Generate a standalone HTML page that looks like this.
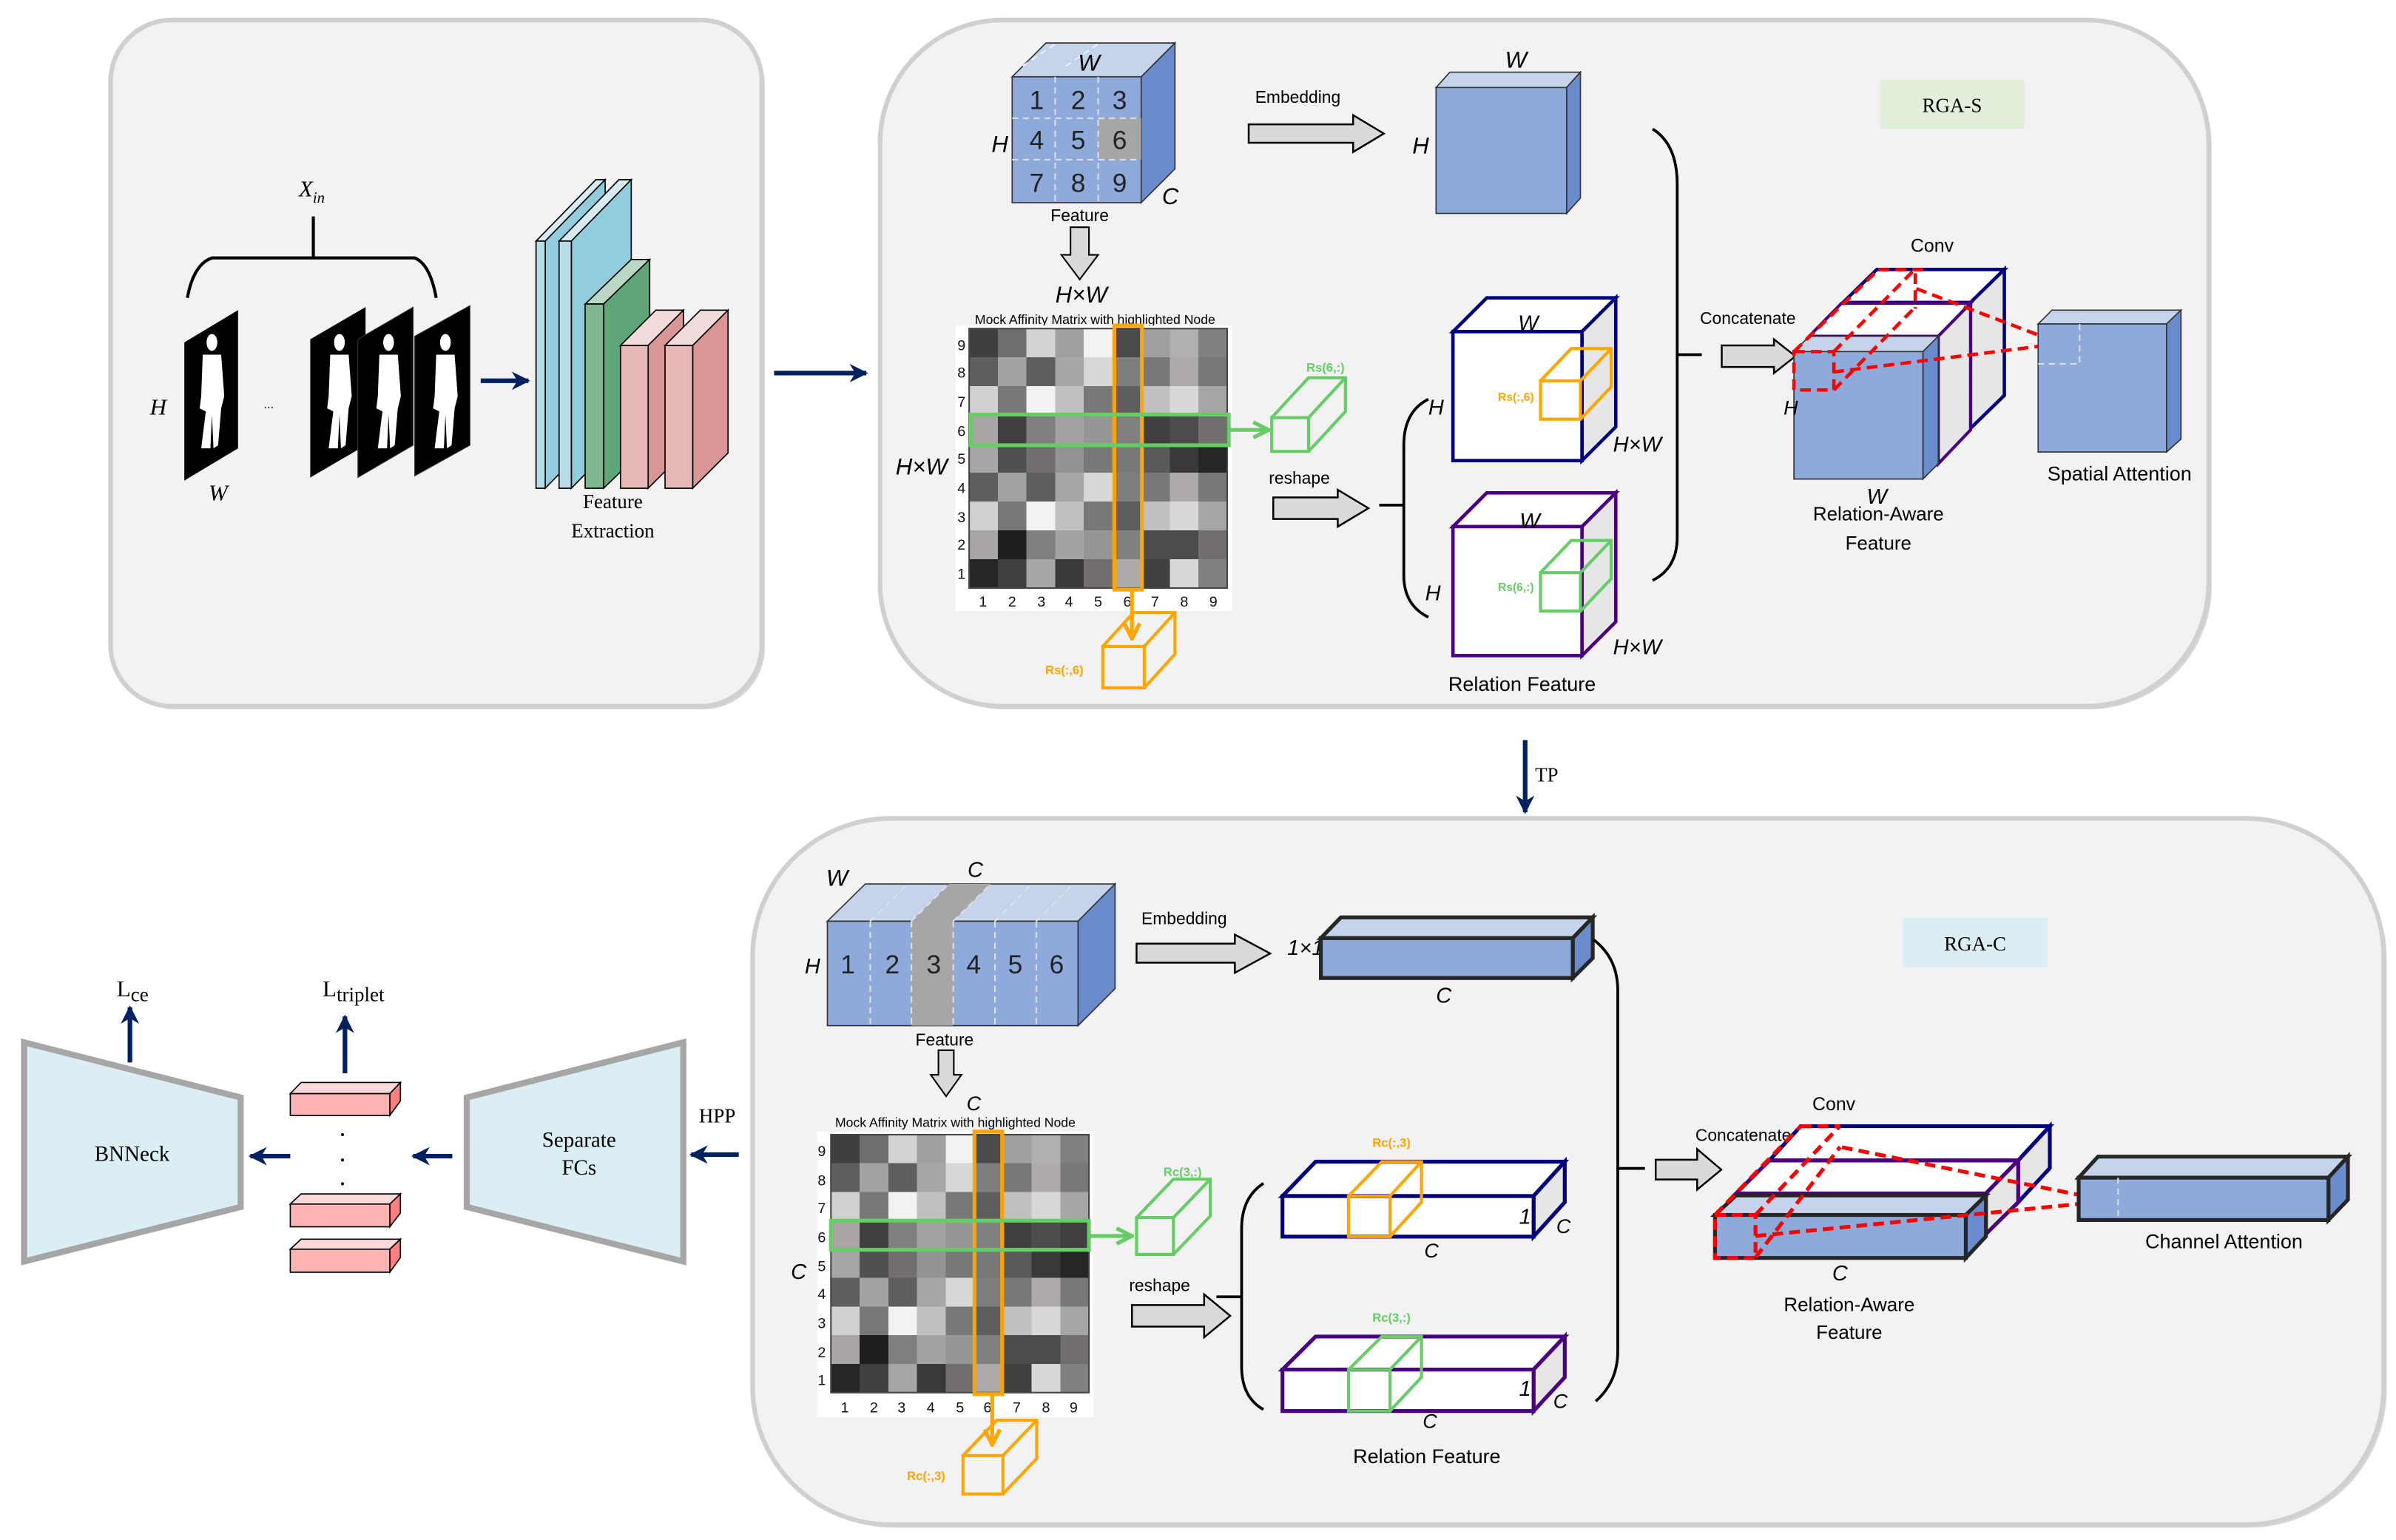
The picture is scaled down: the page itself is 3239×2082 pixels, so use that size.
<!DOCTYPE html>
<html><head><meta charset="utf-8"><style>
html,body{margin:0;padding:0;background:#fff;}
svg{display:block;}
text{font-family:"Liberation Sans",sans-serif;}
.sf{font-family:"Liberation Serif",serif;}
.it{font-style:italic;}
</style></head><body>
<svg width="3239" height="2082" viewBox="0 0 1560 1003" preserveAspectRatio="none" xmlns="http://www.w3.org/2000/svg">
<defs>
<marker id="ah" viewBox="0 0 10 10" refX="9" refY="5" markerWidth="4" markerHeight="4" orient="auto-start-reverse" markerUnits="strokeWidth">
<path d="M0,0 L10,5 L0,10 L3,5 Z" fill="#002060"/></marker>
<marker id="ag" viewBox="0 0 10 10" refX="9" refY="5" markerWidth="5" markerHeight="5" orient="auto" markerUnits="strokeWidth">
<path d="M1,1 L9,5 L1,9" fill="none" stroke="#66cc66" stroke-width="2"/></marker>
<marker id="ao" viewBox="0 0 10 10" refX="9" refY="5" markerWidth="5" markerHeight="5" orient="auto" markerUnits="strokeWidth">
<path d="M1,1 L9,5 L1,9" fill="none" stroke="#ffa500" stroke-width="2"/></marker>
<g id="sil" fill="#fff">
<ellipse cx="0" cy="5" rx="3.5" ry="5.5"/>
<path d="M-6,13 L6,13 L8,40 L6,48 L4,72 L1,74 L0,52 L-1,74 L-7,74 L-4,50 L-8,48 L-7,40 Z"/>
</g>
</defs>

<!-- panels -->
<rect x="74" y="15" width="424" height="447" rx="40" fill="#d8d8d8"/>
<rect x="72" y="13" width="424" height="447" rx="40" fill="#f2f2f2" stroke="#d0d0d0" stroke-width="3"/>
<rect x="575" y="15" width="865" height="447" rx="80" fill="#d8d8d8"/>
<rect x="573" y="13" width="865" height="447" rx="80" fill="#f2f2f2" stroke="#d0d0d0" stroke-width="3"/>
<rect x="492" y="535" width="1062" height="460" rx="90" fill="#d8d8d8"/>
<rect x="490" y="533" width="1062" height="460" rx="90" fill="#f2f2f2" stroke="#d0d0d0" stroke-width="3"/>

<!-- ===== Top-left ===== -->
<text x="203" y="128" class="sf it" font-size="15" text-anchor="middle">X<tspan font-size="10" dy="4">in</tspan></text>
<path d="M204,141 L204,168 M122,194 Q126,172 138,168 L270,168 Q280,172 284,194" fill="none" stroke="#000" stroke-width="2"/>
<polygon points="120,223 155,202 155,292 120,313" fill="#000"/>
<use href="#sil" x="138" y="218"/>
<polygon points="202,221 238,200 238,290 202,311" fill="#000"/>
<polygon points="233,221 269,200 269,290 233,311" fill="#000" stroke="#333" stroke-width="0.5"/>
<polygon points="270,219 306,199 306,290 270,310" fill="#000" stroke="#333" stroke-width="0.5"/>
<use href="#sil" x="221" y="218"/>
<use href="#sil" x="253" y="218"/>
<use href="#sil" x="290" y="218"/>
<text x="175" y="266" font-size="8" text-anchor="middle">...</text>
<text x="103" y="270" class="sf it" font-size="15" text-anchor="middle">H</text>
<text x="142" y="326" class="sf it" font-size="15" text-anchor="middle">W</text>
<line x1="313" y1="248" x2="344" y2="248" stroke="#002060" stroke-width="3" marker-end="url(#ah)"/>
<!-- feature extraction slabs -->
<g stroke="#000" stroke-width="0.8">
<polygon points="349,157 355,157 394,117 388,117" fill="#d6ecf3"/>
<polygon points="355,157 394,117 394,278 355,318" fill="#92cddd"/>
<rect x="349" y="157" width="6" height="161" fill="#b7dde8"/>
<polygon points="364,157 372,157 411,117 403,117" fill="#d6ecf3"/>
<polygon points="372,157 411,117 411,278 372,318" fill="#92cddd"/>
<rect x="364" y="157" width="8" height="161" fill="#b7dde8"/>
<polygon points="381,198 393,198 423,169 411,169" fill="#b9d7c4"/>
<polygon points="393,198 423,169 423,289 393,318" fill="#5ea577"/>
<rect x="381" y="198" width="12" height="120" fill="#7fb791"/>
<polygon points="404,225 422,225 445,202 427,202" fill="#f2dcdb"/>
<polygon points="422,225 445,202 445,295 422,318" fill="#d99694"/>
<rect x="404" y="225" width="18" height="93" fill="#e6b9b8"/>
<polygon points="433,225 451,225 474,202 456,202" fill="#f2dcdb"/>
<polygon points="451,225 474,202 474,295 451,318" fill="#d99694"/>
<rect x="433" y="225" width="18" height="93" fill="#e6b9b8"/>
</g>
<text x="399" y="331" class="sf" font-size="13" text-anchor="middle">Feature</text>
<text x="399" y="350" class="sf" font-size="13" text-anchor="middle">Extraction</text>

<line x1="504" y1="243" x2="564" y2="243" stroke="#002060" stroke-width="3" marker-end="url(#ah)"/>

<!-- ===== Top-right RGA-S ===== -->
<g stroke="#333" stroke-width="0.8">
<polygon points="659,50 743,50 765,28 681,28" fill="#c5d3eb"/>
<polygon points="743,50 765,28 765,110 743,132" fill="#6a8bcc"/>
<rect x="659" y="50" width="84" height="82" fill="#8eaadb"/>
<rect x="715" y="77" width="28" height="27" fill="#a6a6a6" stroke="none"/>
</g>
<g stroke="#dde" stroke-width="1" stroke-dasharray="4,3">
<line x1="687" y1="50" x2="687" y2="132"/><line x1="715" y1="50" x2="715" y2="132"/>
<line x1="659" y1="77" x2="743" y2="77"/><line x1="659" y1="104" x2="743" y2="104"/>
<line x1="666" y1="43" x2="688" y2="28" stroke="#eef"/><line x1="694" y1="43" x2="716" y2="28" stroke="#eef"/>
</g>
<g font-size="17" text-anchor="middle" fill="#222">
<text x="675" y="71">1</text><text x="702" y="71">2</text><text x="729" y="71">3</text>
<text x="675" y="97">4</text><text x="702" y="97">5</text><text x="729" y="97">6</text>
<text x="675" y="125">7</text><text x="702" y="125">8</text><text x="729" y="125">9</text>
</g>
<text x="709" y="46" class="it" font-size="15" text-anchor="middle">W</text>
<text x="651" y="99" class="it" font-size="15" text-anchor="middle">H</text>
<text x="762" y="133" class="it" font-size="15" text-anchor="middle">C</text>
<text x="703" y="144" font-size="11" text-anchor="middle">Feature</text>
<polygon points="697,148 709,148 709,166 715,166 703,182 691,166 697,166" fill="#d9d9d9" stroke="#000" stroke-width="1"/>
<text x="704" y="197" class="it" font-size="15" text-anchor="middle">H×W</text>
<text x="713" y="211" font-size="8.5" text-anchor="middle">Mock Affinity Matrix with highlighted Node</text>
<rect x="622" y="212" width="180" height="186" fill="#fff"/>
<svg x="631" y="214" width="168" height="169" viewBox="0 0 9 9" preserveAspectRatio="none" shape-rendering="crispEdges">
<g>
<rect x="0" y="0" width="1" height="1" fill="#3f3f3f"/><rect x="1" y="0" width="1" height="1" fill="#6e6e6e"/><rect x="2" y="0" width="1" height="1" fill="#d3d3d3"/><rect x="3" y="0" width="1" height="1" fill="#a0a0a0"/><rect x="4" y="0" width="1" height="1" fill="#f2f2f2"/><rect x="5" y="0" width="1" height="1" fill="#4a4a4a"/><rect x="6" y="0" width="1" height="1" fill="#a0a0a0"/><rect x="7" y="0" width="1" height="1" fill="#b0b0b0"/><rect x="8" y="0" width="1" height="1" fill="#808080"/>
<rect x="0" y="1" width="1" height="1" fill="#5e5e5e"/><rect x="1" y="1" width="1" height="1" fill="#a3a3a3"/><rect x="2" y="1" width="1" height="1" fill="#5e5e5e"/><rect x="3" y="1" width="1" height="1" fill="#a6a6a6"/><rect x="4" y="1" width="1" height="1" fill="#d8d8d8"/><rect x="5" y="1" width="1" height="1" fill="#7e7e7e"/><rect x="6" y="1" width="1" height="1" fill="#787878"/><rect x="7" y="1" width="1" height="1" fill="#aeaaaa"/><rect x="8" y="1" width="1" height="1" fill="#787878"/>
<rect x="0" y="2" width="1" height="1" fill="#d0d0d0"/><rect x="1" y="2" width="1" height="1" fill="#787878"/><rect x="2" y="2" width="1" height="1" fill="#f2f2f2"/><rect x="3" y="2" width="1" height="1" fill="#c0c0c0"/><rect x="4" y="2" width="1" height="1" fill="#787878"/><rect x="5" y="2" width="1" height="1" fill="#5e5e5e"/><rect x="6" y="2" width="1" height="1" fill="#c0c0c0"/><rect x="7" y="2" width="1" height="1" fill="#d8d8d8"/><rect x="8" y="2" width="1" height="1" fill="#a6a6a6"/>
<rect x="0" y="3" width="1" height="1" fill="#aaa6a6"/><rect x="1" y="3" width="1" height="1" fill="#404040"/><rect x="2" y="3" width="1" height="1" fill="#808080"/><rect x="3" y="3" width="1" height="1" fill="#a3a3a3"/><rect x="4" y="3" width="1" height="1" fill="#969696"/><rect x="5" y="3" width="1" height="1" fill="#808080"/><rect x="6" y="3" width="1" height="1" fill="#404040"/><rect x="7" y="3" width="1" height="1" fill="#4c4c4c"/><rect x="8" y="3" width="1" height="1" fill="#726e6e"/>
<rect x="0" y="4" width="1" height="1" fill="#a6a6a6"/><rect x="1" y="4" width="1" height="1" fill="#505050"/><rect x="2" y="4" width="1" height="1" fill="#726e6e"/><rect x="3" y="4" width="1" height="1" fill="#949494"/><rect x="4" y="4" width="1" height="1" fill="#787878"/><rect x="5" y="4" width="1" height="1" fill="#787878"/><rect x="6" y="4" width="1" height="1" fill="#5a5a5a"/><rect x="7" y="4" width="1" height="1" fill="#3a3838"/><rect x="8" y="4" width="1" height="1" fill="#262626"/>
<rect x="0" y="5" width="1" height="1" fill="#5e5e5e"/><rect x="1" y="5" width="1" height="1" fill="#a3a3a3"/><rect x="2" y="5" width="1" height="1" fill="#5e5e5e"/><rect x="3" y="5" width="1" height="1" fill="#a6a6a6"/><rect x="4" y="5" width="1" height="1" fill="#d8d8d8"/><rect x="5" y="5" width="1" height="1" fill="#7e7e7e"/><rect x="6" y="5" width="1" height="1" fill="#787878"/><rect x="7" y="5" width="1" height="1" fill="#aeaaaa"/><rect x="8" y="5" width="1" height="1" fill="#787878"/>
<rect x="0" y="6" width="1" height="1" fill="#d0d0d0"/><rect x="1" y="6" width="1" height="1" fill="#787878"/><rect x="2" y="6" width="1" height="1" fill="#f2f2f2"/><rect x="3" y="6" width="1" height="1" fill="#c0c0c0"/><rect x="4" y="6" width="1" height="1" fill="#787878"/><rect x="5" y="6" width="1" height="1" fill="#5e5e5e"/><rect x="6" y="6" width="1" height="1" fill="#c0c0c0"/><rect x="7" y="6" width="1" height="1" fill="#d8d8d8"/><rect x="8" y="6" width="1" height="1" fill="#a6a6a6"/>
<rect x="0" y="7" width="1" height="1" fill="#aaa6a6"/><rect x="1" y="7" width="1" height="1" fill="#1e1e1e"/><rect x="2" y="7" width="1" height="1" fill="#808080"/><rect x="3" y="7" width="1" height="1" fill="#a3a3a3"/><rect x="4" y="7" width="1" height="1" fill="#969696"/><rect x="5" y="7" width="1" height="1" fill="#808080"/><rect x="6" y="7" width="1" height="1" fill="#4c4c4c"/><rect x="7" y="7" width="1" height="1" fill="#4c4c4c"/><rect x="8" y="7" width="1" height="1" fill="#726e6e"/>
<rect x="0" y="8" width="1" height="1" fill="#262626"/><rect x="1" y="8" width="1" height="1" fill="#404040"/><rect x="2" y="8" width="1" height="1" fill="#a6a6a6"/><rect x="3" y="8" width="1" height="1" fill="#3a3838"/><rect x="4" y="8" width="1" height="1" fill="#726e6e"/><rect x="5" y="8" width="1" height="1" fill="#aeaaaa"/><rect x="6" y="8" width="1" height="1" fill="#404040"/><rect x="7" y="8" width="1" height="1" fill="#d8d8d8"/><rect x="8" y="8" width="1" height="1" fill="#808080"/>
</g></svg>
<rect x="631" y="214" width="168" height="169" fill="none" stroke="#444" stroke-width="1"/>
<g font-size="9.5" text-anchor="middle" fill="#111">
<text x="626" y="228">9</text><text x="626" y="246">8</text><text x="626" y="265">7</text><text x="626" y="284">6</text><text x="626" y="302">5</text><text x="626" y="321">4</text><text x="626" y="340">3</text><text x="626" y="358">2</text><text x="626" y="377">1</text>
<text x="640" y="395">1</text><text x="659" y="395">2</text><text x="678" y="395">3</text><text x="696" y="395">4</text><text x="715" y="395">5</text><text x="734" y="395">6</text><text x="752" y="395">7</text><text x="771" y="395">8</text><text x="790" y="395">9</text>
</g>
<rect x="725.5" y="212" width="18" height="172" fill="none" stroke="#ffa500" stroke-width="2.5"/>
<rect x="632" y="270" width="168" height="20" fill="none" stroke="#66cc66" stroke-width="2.5"/>
<text x="600" y="309" class="it" font-size="15" text-anchor="middle">H×W</text>
<line x1="801" y1="280" x2="826" y2="280" stroke="#66cc66" stroke-width="2.5" marker-end="url(#ag)"/>
<g fill="none" stroke="#66cc66" stroke-width="2">
<rect x="828" y="272" width="24" height="22"/><polyline points="828,272 852,246 876,246 876,268 852,294"/><line x1="852" y1="272" x2="876" y2="246"/></g>
<text x="863" y="242" font-size="8" fill="#66cc66" text-anchor="middle" font-weight="bold">Rs(6,:)</text>
<line x1="737" y1="384" x2="737" y2="416" stroke="#ffa500" stroke-width="2.5" marker-end="url(#ao)"/>
<g fill="none" stroke="#ffa500" stroke-width="2">
<rect x="718" y="421" width="27" height="27"/><polyline points="718,421 738,399 765,399 765,426 745,448"/><line x1="745" y1="421" x2="765" y2="399"/></g>
<text x="693" y="439" font-size="8" fill="#ffa500" text-anchor="middle" font-weight="bold">Rs(:,6)</text>
<text x="846" y="315" font-size="11" text-anchor="middle">reshape</text>
<polygon points="829,324 871,324 871,319 891,331 871,343 871,338 829,338" fill="#d9d9d9" stroke="#000" stroke-width="1.2"/>
<text x="845" y="67" font-size="11" text-anchor="middle">Embedding</text>
<polygon points="813,81 881,81 881,75 901,87 881,99 881,93 813,93" fill="#d9d9d9" stroke="#000" stroke-width="1.2"/>
<g stroke="#333" stroke-width="0.8">
<polygon points="935,57 1020,57 1029,47 944,47" fill="#c5d3eb"/>
<polygon points="1020,57 1029,47 1029,129 1020,139" fill="#6a8bcc"/>
<rect x="935" y="57" width="85" height="82" fill="#8eaadb"/></g>
<text x="987" y="44" class="it" font-size="15" text-anchor="middle">W</text>
<text x="925" y="100" class="it" font-size="15" text-anchor="middle">H</text>
<rect x="1224" y="52" width="94" height="32" fill="#e2efda"/>
<text x="1271" y="73" class="sf" font-size="13" text-anchor="middle">RGA-S</text>
<path d="M930,260 Q914,268 914,290 L914,375 Q914,394 930,402 M898,329 L914,329" fill="none" stroke="#000" stroke-width="1.8"/>
<path d="M1076,84 Q1092,94 1092,120 L1092,350 Q1092,370 1076,378 M1092,231 L1108,231" fill="none" stroke="#000" stroke-width="1.8"/>
<!-- relation feature cubes -->
<g stroke="#00007f" stroke-width="2.2">
<polygon points="946,216 1030,216 1052,194 968,194" fill="#fff"/>
<polygon points="1030,216 1052,194 1052,278 1030,300" fill="#e6e6e6"/>
<rect x="946" y="216" width="84" height="84" fill="#fff"/></g>
<g fill="none" stroke="#ffa500" stroke-width="2">
<rect x="1003" y="248" width="26" height="25"/><polyline points="1003,248 1023,227 1049,227 1049,252 1029,273"/><line x1="1029" y1="248" x2="1049" y2="227"/></g>
<text x="987" y="261" font-size="7.5" fill="#ffa500" text-anchor="middle" font-weight="bold">Rs(:,6)</text>
<text x="995" y="215" class="it" font-size="14" text-anchor="middle">W</text>
<text x="935" y="270" class="it" font-size="14" text-anchor="middle">H</text>
<text x="1066" y="294" class="it" font-size="14" text-anchor="middle">H×W</text>
<g stroke="#4b0082" stroke-width="2.2">
<polygon points="946,343 1030,343 1052,321 968,321" fill="#fff"/>
<polygon points="1030,343 1052,321 1052,405 1030,427" fill="#e6e6e6"/>
<rect x="946" y="343" width="84" height="84" fill="#fff"/></g>
<g fill="none" stroke="#66cc66" stroke-width="2">
<rect x="1003" y="373" width="26" height="25"/><polyline points="1003,373 1023,352 1049,352 1049,377 1029,398"/><line x1="1029" y1="373" x2="1049" y2="352"/></g>
<text x="987" y="385" font-size="7.5" fill="#66cc66" text-anchor="middle" font-weight="bold">Rs(6,:)</text>
<text x="996" y="344" class="it" font-size="14" text-anchor="middle">W</text>
<text x="933" y="391" class="it" font-size="14" text-anchor="middle">H</text>
<text x="1066" y="426" class="it" font-size="14" text-anchor="middle">H×W</text>
<text x="991" y="450" font-size="13" text-anchor="middle">Relation Feature</text>
<!-- concat S -->
<text x="1138" y="211" font-size="11" text-anchor="middle">Concatenate</text>
<polygon points="1121,225 1155,225 1155,221 1169,232 1155,243 1155,239 1121,239" fill="#d9d9d9" stroke="#000" stroke-width="1.2"/>
<text x="1258" y="164" font-size="12" text-anchor="middle">Conv</text>
<g stroke="#00007f" stroke-width="2.2">
<polygon points="1200,197 1283,197 1305,175.5 1222,175.5" fill="#fff"/>
<polygon points="1283,197 1305,175.5 1305,257.5 1283,279" fill="#e6e6e6"/></g>
<g stroke="#4b0082" stroke-width="2">
<polygon points="1178,219 1262,219 1283,197.5 1199,197.5" fill="#fff"/>
<polygon points="1262,219 1283,197.5 1283,280 1262,302" fill="#e6e6e6"/></g>
<g stroke="#333" stroke-width="0.8">
<polygon points="1168,229 1252,229 1262,219 1178,219" fill="#c5d3eb"/>
<polygon points="1252,229 1262,219 1262,302 1252,312" fill="#6a8bcc"/>
<rect x="1168" y="229" width="84" height="83" fill="#8eaadb"/></g>
<g stroke="#ff0000" stroke-width="2.2" fill="none" stroke-dasharray="7,4">
<rect x="1168" y="229" width="26" height="25"/>
<line x1="1168" y1="229" x2="1223" y2="175.6"/><line x1="1194" y1="229" x2="1246.5" y2="175.6"/>
<line x1="1223" y1="175.6" x2="1252" y2="175.6"/><line x1="1194" y1="254" x2="1246" y2="201"/>
<line x1="1247" y1="178" x2="1247" y2="201"/>
<line x1="1247.7" y1="188" x2="1339.8" y2="223"/><line x1="1193.6" y1="242.3" x2="1339.8" y2="224"/></g>
<text x="1166" y="270" class="it" font-size="13" text-anchor="middle">H</text>
<text x="1222" y="328" class="it" font-size="14" text-anchor="middle">W</text>
<text x="1223" y="339" font-size="12.5" text-anchor="middle">Relation-Aware</text>
<text x="1223" y="358" font-size="12.5" text-anchor="middle">Feature</text>
<g stroke="#333" stroke-width="0.8">
<polygon points="1327,211 1410.6,211 1420,202 1336,202" fill="#c5d3eb"/>
<polygon points="1410.6,211 1420,202 1420,286 1410.6,294.4" fill="#6a8bcc"/>
<rect x="1327" y="211" width="83.6" height="83.4" fill="#8eaadb"/></g>
<path d="M1327,237 L1354,237 L1354,211" fill="none" stroke="#ddd" stroke-width="1" stroke-dasharray="4,3"/>
<text x="1380" y="313" font-size="13" text-anchor="middle">Spatial Attention</text>

<!-- TP arrow -->
<line x1="993" y1="482" x2="993" y2="529" stroke="#002060" stroke-width="3" marker-end="url(#ah)"/>
<text x="1007" y="509" class="sf" font-size="13" text-anchor="middle">TP</text>

<!-- ===== Bottom RGA-C ===== -->
<g stroke="#333" stroke-width="0.8">
<polygon points="538.7,600 701.9,600 726,575.7 563.4,575.7" fill="#c5d3eb"/>
<polygon points="701.9,600 726,575.7 726,643.9 701.9,668" fill="#6a8bcc"/>
<rect x="538.7" y="600" width="163.2" height="68" fill="#8eaadb"/>
<rect x="593.4" y="600" width="27.2" height="68" fill="#a6a6a6" stroke="none"/>
<polygon points="593.4,600 620.6,600 645,575.7 617.8,575.7" fill="#a6a6a6" stroke="none"/></g>
<g stroke="#e0e0e0" stroke-width="1" stroke-dasharray="4,3">
<line x1="566.6" y1="600" x2="566.6" y2="668"/><line x1="593.4" y1="600" x2="593.4" y2="668"/><line x1="620.6" y1="600" x2="620.6" y2="668"/><line x1="647.8" y1="600" x2="647.8" y2="668"/><line x1="674.7" y1="600" x2="674.7" y2="668"/>
<line x1="566.6" y1="600" x2="591" y2="575.7"/><line x1="593.4" y1="600" x2="617.8" y2="575.7"/><line x1="620.6" y1="600" x2="645" y2="575.7"/><line x1="647.8" y1="600" x2="672" y2="575.7"/><line x1="674.7" y1="600" x2="699" y2="575.7"/>
</g>
<g font-size="17" text-anchor="middle" fill="#222">
<text x="552" y="634">1</text><text x="581" y="634">2</text><text x="608" y="634">3</text><text x="634" y="634">4</text><text x="661" y="634">5</text><text x="688" y="634">6</text></g>
<text x="545" y="577" class="it" font-size="15" text-anchor="middle">W</text>
<text x="635" y="571" class="it" font-size="14" text-anchor="middle">C</text>
<text x="529" y="634" class="it" font-size="14" text-anchor="middle">H</text>
<text x="615" y="681" font-size="11" text-anchor="middle">Feature</text>
<polygon points="611,684 621,684 621,700 626,700 616,714 606,700 611,700" fill="#d9d9d9" stroke="#000" stroke-width="1"/>
<text x="634" y="723" class="it" font-size="13" text-anchor="middle">C</text>
<text x="771" y="602" font-size="11" text-anchor="middle">Embedding</text>
<polygon points="740,614.6 804,614.6 804,608.7 827,621 804,633.6 804,627 740,627" fill="#d9d9d9" stroke="#000" stroke-width="1.2"/>
<text x="850" y="622" class="it" font-size="14" text-anchor="middle">1×1</text>
<g stroke="#262626" stroke-width="2.5">
<polygon points="860,611 1024,611 1037,597.5 873,597.5" fill="#c5d3eb"/>
<polygon points="1024,611 1037,597.5 1037,624 1024,637" fill="#6a8bcc"/>
<rect x="860" y="611" width="164" height="26" fill="#8eaadb"/></g>
<text x="940" y="653" class="it" font-size="14" text-anchor="middle">C</text>
<rect x="1239" y="598" width="94" height="32" fill="#daeef3"/>
<text x="1286" y="619" class="sf" font-size="13" text-anchor="middle">RGA-C</text>
<!-- matrix 2 -->
<text x="622" y="734" font-size="8.5" text-anchor="middle">Mock Affinity Matrix with highlighted Node</text>
<rect x="532" y="737" width="180" height="186" fill="#fff"/>
<svg x="541" y="739" width="168" height="168" viewBox="0 0 9 9" preserveAspectRatio="none" shape-rendering="crispEdges">
<g>
<rect x="0" y="0" width="1" height="1" fill="#3f3f3f"/><rect x="1" y="0" width="1" height="1" fill="#6e6e6e"/><rect x="2" y="0" width="1" height="1" fill="#d3d3d3"/><rect x="3" y="0" width="1" height="1" fill="#a0a0a0"/><rect x="4" y="0" width="1" height="1" fill="#f2f2f2"/><rect x="5" y="0" width="1" height="1" fill="#4a4a4a"/><rect x="6" y="0" width="1" height="1" fill="#a0a0a0"/><rect x="7" y="0" width="1" height="1" fill="#b0b0b0"/><rect x="8" y="0" width="1" height="1" fill="#808080"/>
<rect x="0" y="1" width="1" height="1" fill="#5e5e5e"/><rect x="1" y="1" width="1" height="1" fill="#a3a3a3"/><rect x="2" y="1" width="1" height="1" fill="#5e5e5e"/><rect x="3" y="1" width="1" height="1" fill="#a6a6a6"/><rect x="4" y="1" width="1" height="1" fill="#d8d8d8"/><rect x="5" y="1" width="1" height="1" fill="#7e7e7e"/><rect x="6" y="1" width="1" height="1" fill="#787878"/><rect x="7" y="1" width="1" height="1" fill="#aeaaaa"/><rect x="8" y="1" width="1" height="1" fill="#787878"/>
<rect x="0" y="2" width="1" height="1" fill="#d0d0d0"/><rect x="1" y="2" width="1" height="1" fill="#787878"/><rect x="2" y="2" width="1" height="1" fill="#f2f2f2"/><rect x="3" y="2" width="1" height="1" fill="#c0c0c0"/><rect x="4" y="2" width="1" height="1" fill="#787878"/><rect x="5" y="2" width="1" height="1" fill="#5e5e5e"/><rect x="6" y="2" width="1" height="1" fill="#c0c0c0"/><rect x="7" y="2" width="1" height="1" fill="#d8d8d8"/><rect x="8" y="2" width="1" height="1" fill="#a6a6a6"/>
<rect x="0" y="3" width="1" height="1" fill="#aaa6a6"/><rect x="1" y="3" width="1" height="1" fill="#404040"/><rect x="2" y="3" width="1" height="1" fill="#808080"/><rect x="3" y="3" width="1" height="1" fill="#a3a3a3"/><rect x="4" y="3" width="1" height="1" fill="#969696"/><rect x="5" y="3" width="1" height="1" fill="#808080"/><rect x="6" y="3" width="1" height="1" fill="#404040"/><rect x="7" y="3" width="1" height="1" fill="#4c4c4c"/><rect x="8" y="3" width="1" height="1" fill="#404040"/>
<rect x="0" y="4" width="1" height="1" fill="#a6a6a6"/><rect x="1" y="4" width="1" height="1" fill="#505050"/><rect x="2" y="4" width="1" height="1" fill="#726e6e"/><rect x="3" y="4" width="1" height="1" fill="#949494"/><rect x="4" y="4" width="1" height="1" fill="#787878"/><rect x="5" y="4" width="1" height="1" fill="#787878"/><rect x="6" y="4" width="1" height="1" fill="#5a5a5a"/><rect x="7" y="4" width="1" height="1" fill="#3a3838"/><rect x="8" y="4" width="1" height="1" fill="#262626"/>
<rect x="0" y="5" width="1" height="1" fill="#5e5e5e"/><rect x="1" y="5" width="1" height="1" fill="#a3a3a3"/><rect x="2" y="5" width="1" height="1" fill="#5e5e5e"/><rect x="3" y="5" width="1" height="1" fill="#a6a6a6"/><rect x="4" y="5" width="1" height="1" fill="#d8d8d8"/><rect x="5" y="5" width="1" height="1" fill="#7e7e7e"/><rect x="6" y="5" width="1" height="1" fill="#787878"/><rect x="7" y="5" width="1" height="1" fill="#aeaaaa"/><rect x="8" y="5" width="1" height="1" fill="#787878"/>
<rect x="0" y="6" width="1" height="1" fill="#d0d0d0"/><rect x="1" y="6" width="1" height="1" fill="#787878"/><rect x="2" y="6" width="1" height="1" fill="#f2f2f2"/><rect x="3" y="6" width="1" height="1" fill="#c0c0c0"/><rect x="4" y="6" width="1" height="1" fill="#787878"/><rect x="5" y="6" width="1" height="1" fill="#5e5e5e"/><rect x="6" y="6" width="1" height="1" fill="#c0c0c0"/><rect x="7" y="6" width="1" height="1" fill="#d8d8d8"/><rect x="8" y="6" width="1" height="1" fill="#a6a6a6"/>
<rect x="0" y="7" width="1" height="1" fill="#aaa6a6"/><rect x="1" y="7" width="1" height="1" fill="#1e1e1e"/><rect x="2" y="7" width="1" height="1" fill="#808080"/><rect x="3" y="7" width="1" height="1" fill="#a3a3a3"/><rect x="4" y="7" width="1" height="1" fill="#969696"/><rect x="5" y="7" width="1" height="1" fill="#808080"/><rect x="6" y="7" width="1" height="1" fill="#4c4c4c"/><rect x="7" y="7" width="1" height="1" fill="#4c4c4c"/><rect x="8" y="7" width="1" height="1" fill="#726e6e"/>
<rect x="0" y="8" width="1" height="1" fill="#262626"/><rect x="1" y="8" width="1" height="1" fill="#404040"/><rect x="2" y="8" width="1" height="1" fill="#a6a6a6"/><rect x="3" y="8" width="1" height="1" fill="#3a3838"/><rect x="4" y="8" width="1" height="1" fill="#726e6e"/><rect x="5" y="8" width="1" height="1" fill="#aeaaaa"/><rect x="6" y="8" width="1" height="1" fill="#404040"/><rect x="7" y="8" width="1" height="1" fill="#d8d8d8"/><rect x="8" y="8" width="1" height="1" fill="#808080"/>
</g></svg>
<rect x="541" y="739" width="168" height="168" fill="none" stroke="#444" stroke-width="1"/>
<g font-size="9.5" text-anchor="middle" fill="#111">
<text x="535" y="753">9</text><text x="535" y="772">8</text><text x="535" y="790">7</text><text x="535" y="809">6</text><text x="535" y="828">5</text><text x="535" y="846">4</text><text x="535" y="865">3</text><text x="535" y="884">2</text><text x="535" y="902">1</text>
<text x="550" y="920">1</text><text x="569" y="920">2</text><text x="587" y="920">3</text><text x="606" y="920">4</text><text x="625" y="920">5</text><text x="643" y="920">6</text><text x="662" y="920">7</text><text x="681" y="920">8</text><text x="699" y="920">9</text>
</g>
<rect x="634.5" y="737" width="18" height="171" fill="none" stroke="#ffa500" stroke-width="2.5"/>
<rect x="541" y="795" width="168" height="19" fill="none" stroke="#66cc66" stroke-width="2.5"/>
<text x="520" y="833" class="it" font-size="14" text-anchor="middle">C</text>
<line x1="710" y1="805" x2="737" y2="805" stroke="#66cc66" stroke-width="2.5" marker-end="url(#ag)"/>
<g fill="none" stroke="#66cc66" stroke-width="2">
<rect x="740" y="793" width="24" height="24"/><polyline points="740,793 764,768 788,768 788,792 764,817"/><line x1="764" y1="793" x2="788" y2="768"/></g>
<text x="770" y="766" font-size="8" fill="#66cc66" text-anchor="middle" font-weight="bold">Rc(3,:)</text>
<line x1="646" y1="908" x2="646" y2="941" stroke="#ffa500" stroke-width="2.5" marker-end="url(#ao)"/>
<g fill="none" stroke="#ffa500" stroke-width="2">
<rect x="627" y="948" width="26" height="25"/><polyline points="627,948 649,925 675,925 675,950 653,973"/><line x1="653" y1="948" x2="675" y2="925"/></g>
<text x="603" y="964" font-size="8" fill="#ffa500" text-anchor="middle" font-weight="bold">Rc(:,3)</text>
<text x="755" y="841" font-size="11" text-anchor="middle">reshape</text>
<polygon points="737,850 784,850 784,843 801,857 784,871 784,864 737,864" fill="#d9d9d9" stroke="#000" stroke-width="1.2"/>
<path d="M822.6,770.7 Q808.4,780 808.4,800 L808.4,890 Q808.4,910 822.6,918 M792,844.6 L808.4,844.6" fill="none" stroke="#000" stroke-width="1.8"/>
<path d="M1037.5,612 Q1053.3,624 1053.3,645 L1053.3,880 Q1053.3,900 1039,912.6 M1053.3,761 L1071,761" fill="none" stroke="#000" stroke-width="1.8"/>
<!-- bars -->
<g stroke="#00007f" stroke-width="2.5">
<polygon points="835,779 998.5,779 1018.8,756.6 856.6,756.6" fill="#fff"/>
<polygon points="998.5,779 1018.8,756.6 1018.8,783 998.5,805.4" fill="#e6e6e6"/>
<rect x="835" y="779" width="163.5" height="26.4" fill="#fff"/></g>
<g fill="none" stroke="#ffa500" stroke-width="2">
<rect x="878" y="779" width="27" height="26.4"/><polyline points="878,779 899.7,756.6 925.5,756.6 925.5,783 905,805.4"/><line x1="905" y1="779" x2="925.5" y2="756.6"/></g>
<text x="906" y="747" font-size="8" fill="#ffa500" text-anchor="middle" font-weight="bold">Rc(:,3)</text>
<text x="993" y="797" class="it" font-size="14" text-anchor="middle">1</text>
<text x="1018" y="803" class="it" font-size="13" text-anchor="middle">C</text>
<text x="932" y="819" class="it" font-size="13" text-anchor="middle">C</text>
<g stroke="#4b0082" stroke-width="2.5">
<polygon points="835,892 998.5,892 1018.8,870.5 856.6,870.5" fill="#fff"/>
<polygon points="998.5,892 1018.8,870.5 1018.8,897 998.5,919" fill="#e6e6e6"/>
<rect x="835" y="892" width="163.5" height="27" fill="#fff"/></g>
<g fill="none" stroke="#66cc66" stroke-width="2">
<rect x="878" y="892" width="27" height="27"/><polyline points="878,892 899.7,870.5 925.5,870.5 925.5,897 905,919"/><line x1="905" y1="892" x2="925.5" y2="870.5"/></g>
<text x="906" y="861" font-size="8" fill="#66cc66" text-anchor="middle" font-weight="bold">Rc(3,:)</text>
<text x="993" y="909" class="it" font-size="14" text-anchor="middle">1</text>
<text x="1016" y="917" class="it" font-size="13" text-anchor="middle">C</text>
<text x="931" y="930" class="it" font-size="13" text-anchor="middle">C</text>
<text x="929" y="953" font-size="13" text-anchor="middle">Relation Feature</text>
<!-- concat C -->
<text x="1135" y="743" font-size="11" text-anchor="middle">Concatenate</text>
<polygon points="1078,755.3 1105,755.3 1105,748.4 1120.7,761.8 1105,774.8 1105,768.2 1078,768.2" fill="#d9d9d9" stroke="#000" stroke-width="1.2"/>
<text x="1194" y="723" font-size="12" text-anchor="middle">Conv</text>
<g stroke="#00007f" stroke-width="2.5">
<polygon points="1152,755.8 1314,755.8 1334.6,733.5 1172.4,733.5" fill="#fff"/>
<polygon points="1314,755.8 1334.6,733.5 1334.6,760.8 1314,783" fill="#e6e6e6"/></g>
<g stroke="#4b0082" stroke-width="2.5">
<polygon points="1130.3,777.3 1293,777.3 1314,755.8 1152,755.8" fill="#fff"/>
<polygon points="1293,777.3 1314,755.8 1314,783 1293,803.7" fill="#e6e6e6"/></g>
<g stroke="#262626" stroke-width="2.5">
<polygon points="1116.6,791.3 1279.9,791.3 1293,778.6 1130.3,778.6" fill="#c5d3eb"/>
<polygon points="1279.9,791.3 1293,778.6 1293,805.3 1279.9,819.3" fill="#6a8bcc"/>
<rect x="1116.6" y="791.3" width="163.3" height="28" fill="#8eaadb"/></g>
<g stroke="#ff0000" stroke-width="2.5" fill="none" stroke-dasharray="7,4">
<rect x="1116.6" y="791.3" width="26.4" height="28"/>
<line x1="1116.6" y1="791.3" x2="1172.4" y2="733.5"/><line x1="1143" y1="791.3" x2="1197.8" y2="733.5"/>
<line x1="1143" y1="819" x2="1198" y2="747"/><line x1="1172.4" y1="733.5" x2="1197.8" y2="733.5"/>
<line x1="1199.3" y1="747.2" x2="1365" y2="780.5"/><line x1="1143" y1="805" x2="1365" y2="783"/></g>
<g stroke="#262626" stroke-width="2.5">
<polygon points="1353.4,767 1516,767 1528.7,753.3 1366,753.3" fill="#c5d3eb"/>
<polygon points="1516,767 1528.7,753.3 1528.7,781.4 1516,794.6" fill="#6a8bcc"/>
<rect x="1353.4" y="767" width="162.6" height="27.6" fill="#8eaadb"/></g>
<line x1="1379" y1="767" x2="1379" y2="794" stroke="#ddd" stroke-width="1" stroke-dasharray="4,3"/>
<text x="1198" y="834" class="it" font-size="14" text-anchor="middle">C</text>
<text x="1204" y="854" font-size="12.5" text-anchor="middle">Relation-Aware</text>
<text x="1204" y="872" font-size="12.5" text-anchor="middle">Feature</text>
<text x="1448" y="813" font-size="13" text-anchor="middle">Channel Attention</text>

<!-- ===== Bottom-left heads ===== -->
<polygon points="15.7,678.9 156.7,714.8 156.7,786.1 15.7,821.6" fill="#daeef3" stroke="#a6a6a6" stroke-width="4"/>
<polygon points="303.9,714.8 444.9,678.9 444.9,821.6 303.9,786.1" fill="#daeef3" stroke="#a6a6a6" stroke-width="4"/>
<text x="86" y="756" class="sf" font-size="14" text-anchor="middle">BNNeck</text>
<text x="377" y="747" class="sf" font-size="14" text-anchor="middle">Separate</text>
<text x="377" y="765" class="sf" font-size="14" text-anchor="middle">FCs</text>
<line x1="84.6" y1="692" x2="84.6" y2="656" stroke="#002060" stroke-width="3" marker-end="url(#ah)"/>
<line x1="224.6" y1="699" x2="224.6" y2="662" stroke="#002060" stroke-width="3" marker-end="url(#ah)"/>
<text x="76" y="649" class="sf" font-size="15">L<tspan font-size="13" dy="3">ce</tspan></text>
<text x="210" y="649" class="sf" font-size="15">L<tspan font-size="13" dy="3">triplet</tspan></text>
<g stroke="#000" stroke-width="0.8">
<polygon points="189,712.3 253.8,712.3 260.7,705 196,705" fill="#ffd9d9"/>
<polygon points="253.8,712.3 260.7,705 260.7,717 253.8,726.5" fill="#ff8080"/>
<rect x="189" y="712.3" width="64.8" height="14.2" fill="#ffb3b3"/>
<polygon points="189,784.2 253.8,784.2 260.7,777.6 196,777.6" fill="#ffd9d9"/>
<polygon points="253.8,784.2 260.7,777.6 260.7,790 253.8,799" fill="#ff8080"/>
<rect x="189" y="784.2" width="64.8" height="14.8" fill="#ffb3b3"/>
<polygon points="189,813.6 253.8,813.6 260.7,807.1 196,807.1" fill="#ffd9d9"/>
<polygon points="253.8,813.6 260.7,807.1 260.7,819 253.8,828.6" fill="#ff8080"/>
<rect x="189" y="813.6" width="64.8" height="15" fill="#ffb3b3"/></g>
<circle cx="223" cy="739" r="1" fill="#000"/><circle cx="223" cy="755.5" r="1" fill="#000"/><circle cx="223" cy="771" r="1" fill="#000"/>
<line x1="189" y1="753" x2="163" y2="753" stroke="#002060" stroke-width="3" marker-end="url(#ah)"/>
<line x1="294.5" y1="753" x2="269" y2="753" stroke="#002060" stroke-width="3" marker-end="url(#ah)"/>
<line x1="481" y1="752" x2="450" y2="752" stroke="#002060" stroke-width="3" marker-end="url(#ah)"/>
<text x="467" y="731" class="sf" font-size="13" text-anchor="middle">HPP</text>
</svg>
</body></html>
